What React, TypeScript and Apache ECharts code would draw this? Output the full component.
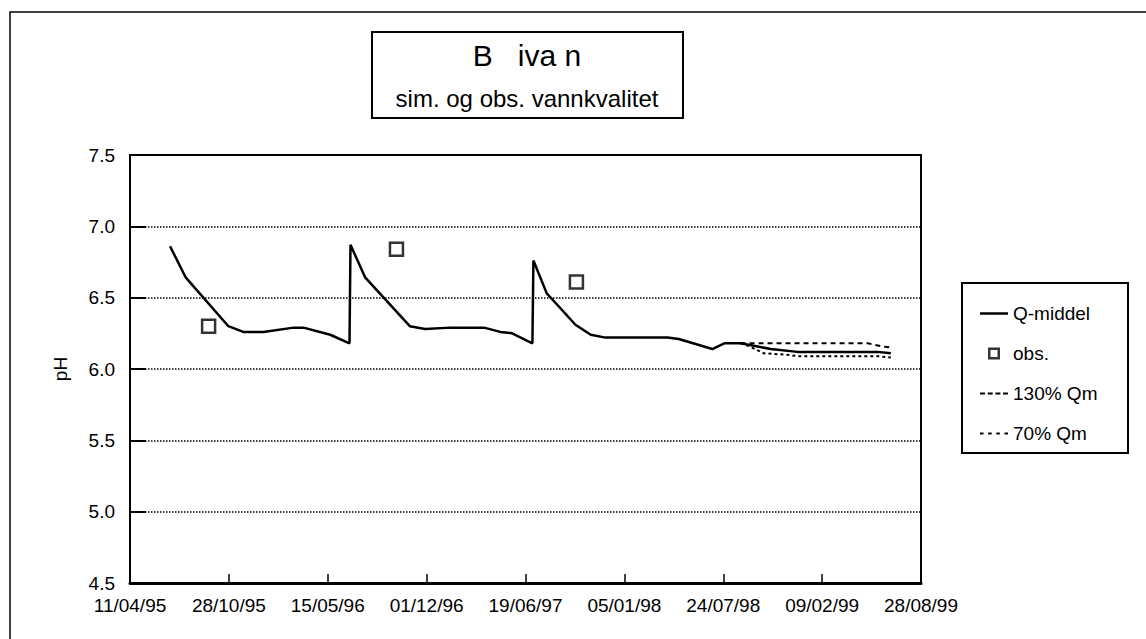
import React, { useEffect, useRef } from "react";
import * as echarts from "echarts";

const FONT = '"Liberation Sans", Arial, sans-serif';

// Dates are day numbers counted from 30/12/1899 (spreadsheet serials)
const xMin = 34800; // 11/04/95
const xMax = 36400; // 28/08/99
const xStep = 200;

const yTicks = [4.5, 5.0, 5.5, 6.0, 6.5, 7.0, 7.5];

// Q-middel (simulated)
const qDays = [
  34881, 34913, 34999, 35029, 35070, 35131, 35151, 35205, 35244,
  35246, 35276, 35366, 35397, 35448, 35516, 35549, 35573, 35614,
  35616, 35643, 35667, 35701, 35732, 35762, 35887, 35910, 35978,
  36002, 36035, 36096, 36150, 36312, 36339,
];
const qPH = [
  6.86, 6.64, 6.3, 6.26, 6.26, 6.29, 6.29, 6.24, 6.18,
  6.87, 6.64, 6.3, 6.28, 6.29, 6.29, 6.26, 6.25, 6.18,
  6.76, 6.53, 6.44, 6.31, 6.24, 6.22, 6.22, 6.21, 6.14,
  6.18, 6.18, 6.14, 6.12, 6.12, 6.11,
];

// 130% Qm
const q130Days = [36035, 36292, 36319, 36339];
const q130PH = [6.18, 6.18, 6.16, 6.15];

// 70% Qm
const q70Days = [36035, 36052, 36082, 36130, 36150, 36312, 36339];
const q70PH = [6.18, 6.16, 6.11, 6.1, 6.09, 6.09, 6.08];

// observations
const obsDays = [34959, 35339, 35703];
const obsPH = [6.3, 6.84, 6.61];

const titleMain = "B   iva n";
const titleSub = "sim. og obs. vannkvalitet";

const legendNames = ["Q-middel", "obs.", "130% Qm", "70% Qm"];
const legendIcons = [
  "path://M0,0H28V2.5H0Z",
  "path://M0,0H12V12H0Z M2.5,2.5V9.5H9.5V2.5Z",
  "path://M0,0H5V2H0Z M7.7,0H12.7V2H7.7Z M15.4,0H20.4V2H15.4Z M23,0H28V2H23Z",
  "path://M0,0H3.5V2H0Z M8.2,0H11.7V2H8.2Z M16.3,0H19.8V2H16.3Z M24.5,0H28V2H24.5Z",
];

function pad(n: number) {
  return n < 10 ? "0" + n : String(n);
}
function fmtDate(serial: number) {
  const d = new Date(Date.UTC(1899, 11, 30) + Math.round(serial) * 86400000);
  return (
    pad(d.getUTCDate()) +
    "/" +
    pad(d.getUTCMonth() + 1) +
    "/" +
    pad(d.getUTCFullYear() % 100)
  );
}
function zip(a: number[], b: number[]) {
  return a.map((v, i) => [v, b[i]]);
}

export default function App() {
  const ref = useRef<HTMLDivElement>(null);
  useEffect(() => {
    if (!ref.current) return;
    const chart = echarts.init(ref.current, undefined, { renderer: "svg" });
    const text = { color: "#000", fontFamily: FONT };
    chart.setOption({
      animation: false,
      backgroundColor: "#fff",
      textStyle: { fontFamily: FONT },
      grid: {
        left: 130,
        top: 155,
        right: 225,
        bottom: 56,
        show: true,
        borderColor: "#000",
        borderWidth: 2,
        backgroundColor: "transparent",
      },
      xAxis: {
        type: "value",
        min: xMin,
        max: xMax,
        interval: xStep,
        axisLine: { show: true, lineStyle: { color: "#000", width: 3 } },
        axisTick: { show: true, inside: true, length: 9, lineStyle: { color: "#000", width: 1.5 } },
        axisLabel: { ...text, fontSize: 19, margin: 13, formatter: (v: number) => fmtDate(v) },
        splitLine: { show: false },
      },
      yAxis: {
        type: "value",
        min: yTicks[0],
        max: yTicks[yTicks.length - 1],
        interval: 0.5,
        name: "pH",
        nameLocation: "middle",
        nameGap: 60,
        nameTextStyle: { ...text, fontSize: 19 },
        axisLine: { show: true, lineStyle: { color: "#000", width: 2 } },
        axisTick: { show: true, inside: true, length: 16, lineStyle: { color: "#000", width: 2 } },
        axisLabel: { ...text, fontSize: 19, margin: 15, formatter: (v: number) => v.toFixed(1) },
        splitLine: { show: true, lineStyle: { color: "#000", type: "dotted", width: 1.5 } },
      },
      legend: {
        orient: "vertical",
        left: 975,
        top: 299,
        itemWidth: 28,
        itemHeight: 12,
        itemGap: 21,
        symbolKeepAspect: true,
        textStyle: { ...text, fontSize: 19 },
        data: legendNames.map((n, i) => ({ name: n, icon: legendIcons[i], itemStyle: { color: "#000", borderWidth: 0 } })),
      },
      series: [
        {
          name: legendNames[0],
          type: "line",
          data: zip(qDays, qPH),
          symbol: "none",
          lineStyle: { color: "#000", width: 2.5 },
          itemStyle: { color: "#000" },
          z: 3,
        },
        {
          name: legendNames[1],
          type: "scatter",
          data: zip(obsDays, obsPH),
          symbol: "rect",
          symbolSize: 13,
          itemStyle: { color: "#fff", borderColor: "#000", borderWidth: 2.5 },
          z: 4,
        },
        {
          name: legendNames[2],
          type: "line",
          data: zip(q130Days, q130PH),
          symbol: "none",
          lineStyle: { color: "#000", width: 2, type: [5, 4] },
          itemStyle: { color: "#000" },
        },
        {
          name: legendNames[3],
          type: "line",
          data: zip(q70Days, q70PH),
          symbol: "none",
          lineStyle: { color: "#000", width: 2, type: [3, 3] },
          itemStyle: { color: "#000" },
        },
      ],
      graphic: [
        {
          type: "rect",
          shape: { x: 10, y: 12, width: 1160, height: 660 },
          style: { fill: "none", stroke: "#000", lineWidth: 1.5 },
          silent: true,
        },
        {
          type: "rect",
          shape: { x: 372, y: 32, width: 311, height: 86 },
          style: { fill: "#fff", stroke: "#000", lineWidth: 2 },
          silent: true,
        },
        {
          type: "text",
          x: 527,
          y: 55,
          style: { text: titleMain, fill: "#000", font: "30px " + FONT, textAlign: "center", textVerticalAlign: "middle" },
          silent: true,
        },
        {
          type: "text",
          x: 527,
          y: 98,
          style: { text: titleSub, fill: "#000", font: "24px " + FONT, textAlign: "center", textVerticalAlign: "middle" },
          silent: true,
        },
        {
          type: "rect",
          z: -1,
          shape: { x: 962, y: 283, width: 166, height: 170 },
          style: { fill: "#fff", stroke: "#000", lineWidth: 2 },
          silent: true,
        },
      ],
    });
    return () => chart.dispose();
  }, []);
  return (
    <div
      ref={ref}
      style={{ position: "absolute", left: 0, top: 0, width: 1146, height: 639 }}
    />
  );
}
